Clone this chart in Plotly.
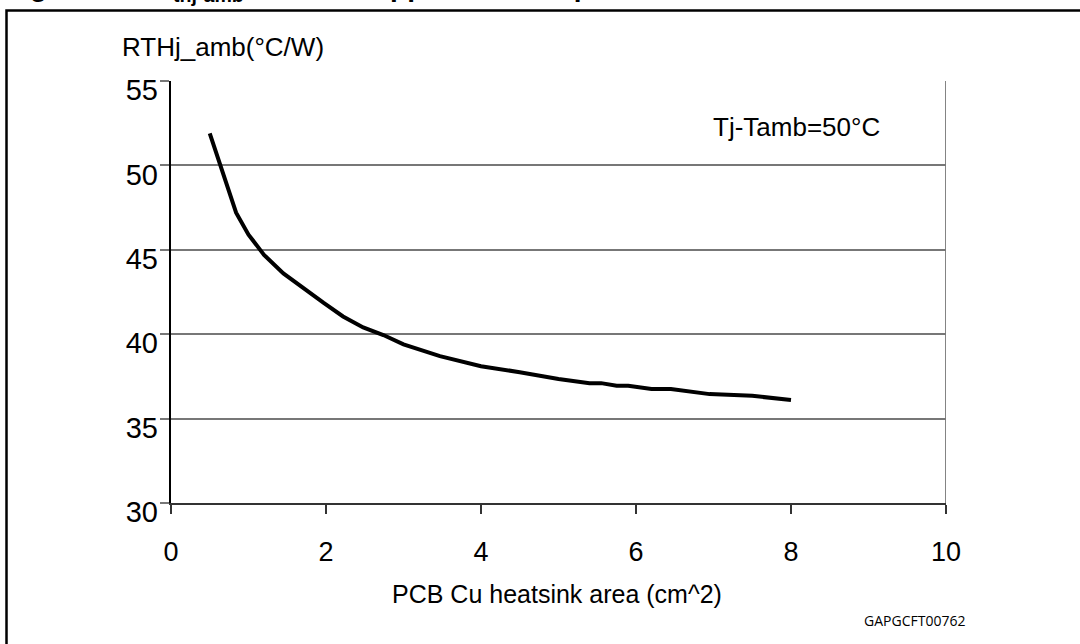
import plotly.graph_objects as go

# Data
area_cm2 = [0.5, 0.84, 1.0, 1.2, 1.45, 1.71, 1.97, 2.22, 2.48, 2.74, 3.0, 3.47, 4.0,
            4.5, 5.0, 5.4, 5.55, 5.75, 5.9, 6.2, 6.45, 6.95, 7.5, 8.0]
rth_ja = [51.9, 47.2, 45.9, 44.7, 43.6, 42.7, 41.85, 41.05, 40.4, 39.95, 39.4, 38.7, 38.1,
          37.75, 37.35, 37.1, 37.1, 36.95, 36.95, 36.75, 36.75, 36.45, 36.35, 36.1]
x_ticks = [0, 2, 4, 6, 8, 10]
y_ticks = [30, 35, 40, 45, 50, 55]

W, H = 1080, 644
SHIFT = 9  # y tick labels sit slightly below their gridlines in the reference
L, R, T, B = 171, 134, 81, 141 - SHIFT
PW, PH = W - L - R, H - T - B


def xp(px):
    return (px - L) / PW


def yp(py):
    return (H - B - py) / PH


FONT = "Liberation Sans, Arial, sans-serif"

fig = go.Figure()
fig.add_trace(go.Scatter(x=area_cm2, y=rth_ja, mode="lines",
                         line=dict(color="black", width=4), showlegend=False,
                         hoverinfo="skip"))
# invisible trace on the label axis so it is drawn
fig.add_trace(go.Scatter(x=[None], y=[None], yaxis="y2", showlegend=False,
                         hoverinfo="skip"))

fig.update_layout(
    width=W, height=H,
    margin=dict(l=L, r=R, t=T, b=B, pad=0),
    paper_bgcolor="white", plot_bgcolor="rgba(0,0,0,0)",
    font=dict(family=FONT, color="black"),
    xaxis=dict(range=[0, 10], tickvals=x_ticks, ticks="outside", ticklen=9,
               tickwidth=1.5, tickcolor="#333", showline=True, linecolor="#333",
               linewidth=2, showgrid=False, zeroline=False, anchor="y",
               tickfont=dict(size=27, family=FONT), ticklabelstandoff=15),
    yaxis=dict(range=[30, 55], tickvals=y_ticks, ticks="outside", ticklen=9,
               tickwidth=1.5, tickcolor="#777", showgrid=True, gridcolor="#777",
               gridwidth=1.8, showline=True, linecolor="black", linewidth=1.5,
               zeroline=False, showticklabels=False,
               domain=[SHIFT / PH, 1]),
    yaxis2=dict(range=[30, 55], tickvals=y_ticks, ticks="", showgrid=False,
                showline=False, zeroline=False, anchor="x",
                side="left", domain=[0, 1 - SHIFT / PH],
                tickfont=dict(size=29, family=FONT), ticklabelstandoff=12),
    shapes=[
        dict(type="rect", xref="paper", yref="paper", x0=xp(6.5), x1=xp(1095),
             y0=yp(660), y1=yp(10.5), line=dict(color="black", width=2.5),
             layer="below"),
        dict(type="line", xref="x", yref="y", x0=10, x1=10, y0=30, y1=55,
             line=dict(color="#777", width=1.8)),
    ],
    annotations=[
        dict(text="RTHj_amb(°C/W)", xref="paper", yref="paper", x=xp(120), y=yp(47.5),
             xanchor="left", yanchor="middle", showarrow=False,
             font=dict(size=26, family=FONT)),
        dict(text="Tj-Tamb=50°C", xref="paper", yref="paper", x=xp(711), y=yp(127.5),
             xanchor="left", yanchor="middle", showarrow=False,
             font=dict(size=26, family=FONT)),
        dict(text="PCB Cu heatsink area (cm^2)", xref="paper", yref="paper",
             x=xp(556.5), y=yp(594), xanchor="center", yanchor="middle",
             showarrow=False, font=dict(size=25, family=FONT)),
        dict(text="GAPGCFT00762", xref="paper", yref="paper", x=xp(862), y=yp(620),
             xanchor="left", yanchor="middle", showarrow=False,
             font=dict(size=14, family="Liberation Sans Narrow, Open Sans, sans-serif")),
        dict(text="<b>Figure 5.&nbsp;&nbsp;&nbsp;&nbsp;R<sub>thj-amb</sub> vs PCB copper area in open box free air condition</b>",
             xref="paper", yref="paper", x=xp(3), y=yp(8), xanchor="left",
             yanchor="bottom", showarrow=False, font=dict(size=28, family=FONT)),
    ],
)

fig.write_html("out.html", config={"displayModeBar": False},
               post_script="document.body.style.margin='0';")
